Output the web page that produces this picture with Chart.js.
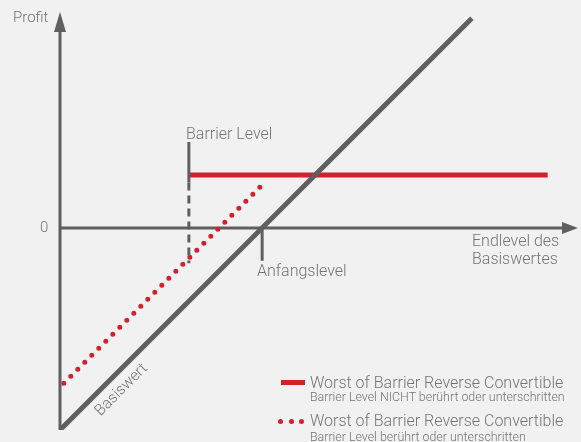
<!DOCTYPE html>
<html>
<head>
<meta charset="utf-8">
<script src="https://cdn.jsdelivr.net/npm/chart.js@4"></script>
<style>
  html, body { margin: 0; padding: 0; background: #f1f1f1; }
  #wrap { position: relative; width: 581px; height: 442px; font-family: 'Roboto', sans-serif; font-weight: 300; color: #747474; }
  #chart { position: absolute; left: 0; top: 0; }
  .lbl { position: absolute; white-space: nowrap; line-height: 1; }
  .leg-line { position: absolute; width: 24px; height: 5px; background: #d0212c; }
  .leg-dot { position: absolute; width: 5px; height: 5px; border-radius: 50%; background: #d0212c; }
</style>
</head>
<body>
<div id="wrap">
  <canvas id="chart" width="581" height="442"></canvas>
  <div class="lbl" style="left:13px; top:10px; font-size:15px;">Profit</div>
  <div class="lbl" style="left:40px; top:220px; font-size:15px;">0</div>
  <div class="lbl" style="left:186px; top:126px; font-size:16px;">Barrier Level</div>
  <div class="lbl" style="left:257px; top:263px; font-size:16px;">Anfangslevel</div>
  <div class="lbl" style="left:472px; top:232px; font-size:16px; line-height:18px;">Endlevel des<br>Basiswertes</div>
  <div class="lbl" style="left:92px; top:408px; font-size:15.5px; transform: rotate(-45deg); transform-origin: left top;">Basiswert</div>

  <div class="leg-line" style="left:281px; top:380px;"></div>
  <div class="lbl" style="left:310px; top:375px; font-size:16px;">Worst of Barrier Reverse Convertible</div>
  <div class="lbl" style="left:310px; top:391px; font-size:12.4px;">Barrier Level NICHT berührt oder unterschritten</div>
  <div class="leg-dot" style="left:278px; top:419px;"></div>
  <div class="leg-dot" style="left:289px; top:419px;"></div>
  <div class="leg-dot" style="left:299px; top:419px;"></div>
  <div class="lbl" style="left:310px; top:413px; font-size:16px;">Worst of Barrier Reverse Convertible</div>
  <div class="lbl" style="left:310px; top:431px; font-size:12.4px;">Barrier Level berührt oder unterschritten</div>
</div>
<script>
// Niveaus des Basiswertes (in % des Anfangslevels) und Profit
const anfangslevel = 100;
const barrierLevel = 71;

// Basiswert (Direktanlage)
const basisX = [20, 183];
const basisY = [-80, 83];

// Barrier NICHT berührt: fixer Ertrag
const ohneX = [71, 213];
const ohneY = [21, 21];

// Barrier berührt: Basiswert + Coupon
const mitX = [21.5, 101];
const mitY = [-61.5, 18];

// Barrier-Linie (oben durchgezogen, unten gestrichelt)
const barrierSolidY = [34, 18];
const barrierDashY = [18, -14];

// Markierung Anfangslevel
const anfangY = [0, -13];

const GRAY = '#5f5f5f';
const RED = '#d0212c';

const pts = (xs, ys) => xs.map((x, i) => ({ x: x, y: ys[i] }));

// Achsen mit Pfeilen
const axesPlugin = {
  id: 'axes',
  beforeDatasetsDraw(chart) {
    const { ctx, scales: { x, y }, chartArea } = chart;
    const x0 = x.getPixelForValue(x.min);
    const y0 = y.getPixelForValue(0);
    ctx.save();
    ctx.strokeStyle = GRAY;
    ctx.fillStyle = GRAY;
    ctx.lineWidth = 3;
    // Y-Achse
    ctx.beginPath();
    ctx.moveTo(x0, chartArea.bottom);
    ctx.lineTo(x0, chartArea.top + 15);
    ctx.stroke();
    ctx.beginPath();
    ctx.moveTo(x0, chartArea.top);
    ctx.lineTo(x0 - 6, chartArea.top + 20);
    ctx.lineTo(x0 + 6, chartArea.top + 20);
    ctx.closePath();
    ctx.fill();
    // X-Achse
    ctx.beginPath();
    ctx.moveTo(x0, y0);
    ctx.lineTo(chartArea.right - 12, y0);
    ctx.stroke();
    ctx.beginPath();
    ctx.moveTo(chartArea.right, y0);
    ctx.lineTo(chartArea.right - 16, y0 - 6);
    ctx.lineTo(chartArea.right - 16, y0 + 6);
    ctx.closePath();
    ctx.fill();
    ctx.restore();
  }
};

new Chart(document.getElementById('chart'), {
  type: 'line',
  data: {
    datasets: [
      { data: pts([anfangslevel, anfangslevel], anfangY), borderColor: GRAY, borderWidth: 3 },
      { data: pts([barrierLevel, barrierLevel], barrierSolidY), borderColor: GRAY, borderWidth: 3 },
      { data: pts([barrierLevel, barrierLevel], barrierDashY), borderColor: GRAY, borderWidth: 3, borderDash: [8, 5] },
      { data: pts(basisX, basisY), borderColor: GRAY, borderWidth: 5 },
      { data: pts(ohneX, ohneY), borderColor: RED, borderWidth: 5 },
      { data: pts(mitX, mitY), borderColor: RED, borderWidth: 5, borderDash: [0, 9.9], borderCapStyle: 'round' }
    ]
  },
  options: {
    responsive: false,
    animation: false,
    elements: { point: { radius: 0 }, line: { tension: 0 } },
    layout: { padding: { left: 60, right: 3, top: 12, bottom: 12 } },
    plugins: { legend: { display: false }, tooltip: { enabled: false } },
    scales: {
      x: { type: 'linear', display: false, min: 20, max: 225 },
      y: { type: 'linear', display: false, min: -80, max: 85.5 }
    }
  },
  plugins: [axesPlugin]
});
</script>
</body>
</html>
